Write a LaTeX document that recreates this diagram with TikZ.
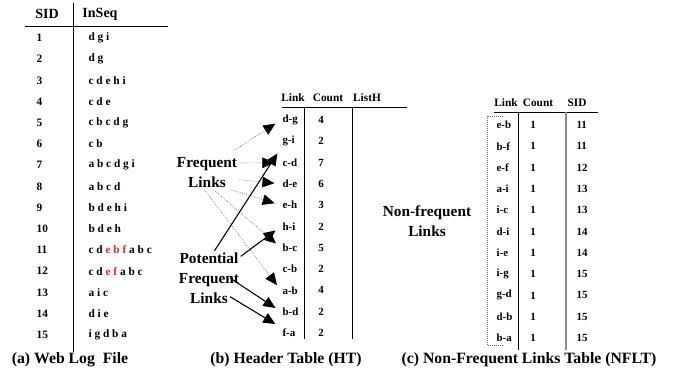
\documentclass[tikz,border=0pt]{standalone}
\usepackage{fontspec}
\setmainfont{Liberation Serif}
\usetikzlibrary{arrows.meta}
\definecolor{hot}{HTML}{E8262C}
\definecolor{rulegray}{HTML}{8C8C8C}
\definecolor{dots}{HTML}{707070}
\newcommand{\hotseq}[1]{{\color{hot}#1}}
\tikzset{
  colhead/.style={font=\fontsize{10.5}{12}\selectfont\bfseries, inner sep=1pt},
  smhead/.style={font=\fontsize{8.5}{10}\selectfont\bfseries, inner sep=1pt},
  cell/.style={font=\fontsize{8.5}{10}\selectfont\bfseries, inner sep=1pt},
  smcell/.style={font=\fontsize{8.2}{9}\selectfont\bfseries, inner sep=1pt},
  lab/.style={font=\fontsize{11.5}{15}\selectfont\bfseries, align=center, inner sep=1pt},
  captxt/.style={font=\fontsize{11.8}{13}\selectfont\bfseries, inner sep=1pt},
  tabline/.style={line width=0.6pt},
  ardot/.style={-{Triangle[length=9pt,width=8pt,color=black]}, densely dotted,
                draw=dots, line width=0.5pt, shorten >=5pt},
  arsol/.style={-{Triangle[length=9pt,width=8pt]}, line width=0.8pt, shorten >=5pt}
}

\begin{document}
\begin{tikzpicture}[x=0.75pt,y=-0.75pt]
  \useasboundingbox (0,0) rectangle (673,377);

  % (a) web log file
  \node[colhead] (sidh) at (47,14) {SID};
  \node[colhead] (seqh) at (100,14) {InSeq};
  \draw[tabline] (25,26) -- (168,26);
  \draw[tabline] (73,3) -- (73,352);
  \foreach \s [count=\i] in {d g i, d g, c d e h i, c d e, c b c d g, c b, a b c d g i,
      a b c d, b d e h i, b d e h, c d \hotseq{e b f} a b c, c d \hotseq{e f} a b c,
      a i c, d i e, i g d b a} {
    \node[cell, anchor=west] (sid\i) at (35,{38+(\i-1)*21.2}) {\i};
    \node[cell, anchor=west] (seq\i) at (87,{38+(\i-1)*21.2}) {\s};
  }

  % (b) header table
  \node[smhead] (hlinkh) at (293,98) {Link};
  \node[smhead] (hcnth) at (328,98) {Count};
  \node[smhead] (hlsth) at (367,98) {ListH};
  \draw[tabline] (282,107) -- (407,107);
  \draw[tabline] (304,107) -- (304,339);
  \draw[tabline] (352,107) -- (352,339);
  \foreach \l/\c [count=\i] in {d-g/4, g-i/2, c-d/7, d-e/6, e-h/3, h-i/2, b-c/5,
      c-b/2, a-b/4, b-d/2, f-a/2} {
    \node[smcell, anchor=west] (hl\i) at (281,{120+(\i-1)*21.3}) {\l};
    \node[smcell] (hc\i) at (321,{120+(\i-1)*21.3}) {\c};
  }

  % (c) non-frequent links table
  \node[smhead] (nlinkh) at (506,103) {Link};
  \node[smhead] (ncnth) at (538,103) {Count};
  \node[smhead] (nsidh) at (577,103) {SID};
  \draw[tabline] (494,112) -- (598,112);
  \draw[tabline] (518,112) -- (518,350);
  \draw[line width=1.5pt, draw=rulegray] (566,112) -- (566,350);
  \draw[densely dotted, draw=dots, line width=0.5pt] (503,116) -- (487,116) -- (487,345) -- (503,345);
  \foreach \l/\s [count=\i] in {e-b/11, b-f/11, e-f/12, a-i/13, i-c/13, d-i/14, i-e/14,
      i-g/15, g-d/15, d-b/15, b-a/15} {
    \node[smcell, anchor=west] (nl\i) at (495,{125+(\i-1)*21.3}) {\l};
    \node[smcell] (nc\i) at (533,{125+(\i-1)*21.3}) {1};
    \node[smcell, anchor=west] (ns\i) at (575,{125+(\i-1)*21.3}) {\s};
  }

  % labels
  \node[lab] (freq) at (207,173) {Frequent\\Links};
  \node[lab] (pot) at (209,278) {Potential\\Frequent\\Links};
  \node[lab] (nonfreq) at (427,221) {Non-frequent\\Links};

  \draw[ardot] ([xshift=-4pt,yshift=4pt]freq.north east) -- (hl1.west);
  \draw[ardot] ([yshift=7.5pt]freq.east) -- (hl3.west);
  \draw[ardot] ([yshift=-5pt]freq.east) -- (hl4.west);
  \draw[ardot] ([xshift=-6pt]freq.south east) -- (hl5.west);
  \draw[ardot] ([xshift=5pt]freq.south) -- (hl7.west);
  \draw[ardot] ([xshift=-2pt]freq.south) -- (hl9.west);

  \draw[arsol] ([xshift=4pt]pot.north) -- (hl2.south west);
  \draw[arsol] ([yshift=-4pt]pot.north east) -- (hl6.west);
  \draw[arsol] ([xshift=-8pt]pot.east) -- (hl10.west);
  \draw[arsol] ([xshift=-8pt,yshift=-14pt]pot.east) -- (hl11.north west);

  % captions
  \node[captxt] (capa) at (70,360) {(a) Web Log\ \ File};
  \node[captxt] (capb) at (286,360) {(b) Header Table (HT)};
  \node[captxt] (capc) at (529,360) {(c) Non-Frequent Links Table (NFLT)};
\end{tikzpicture}
\end{document}
